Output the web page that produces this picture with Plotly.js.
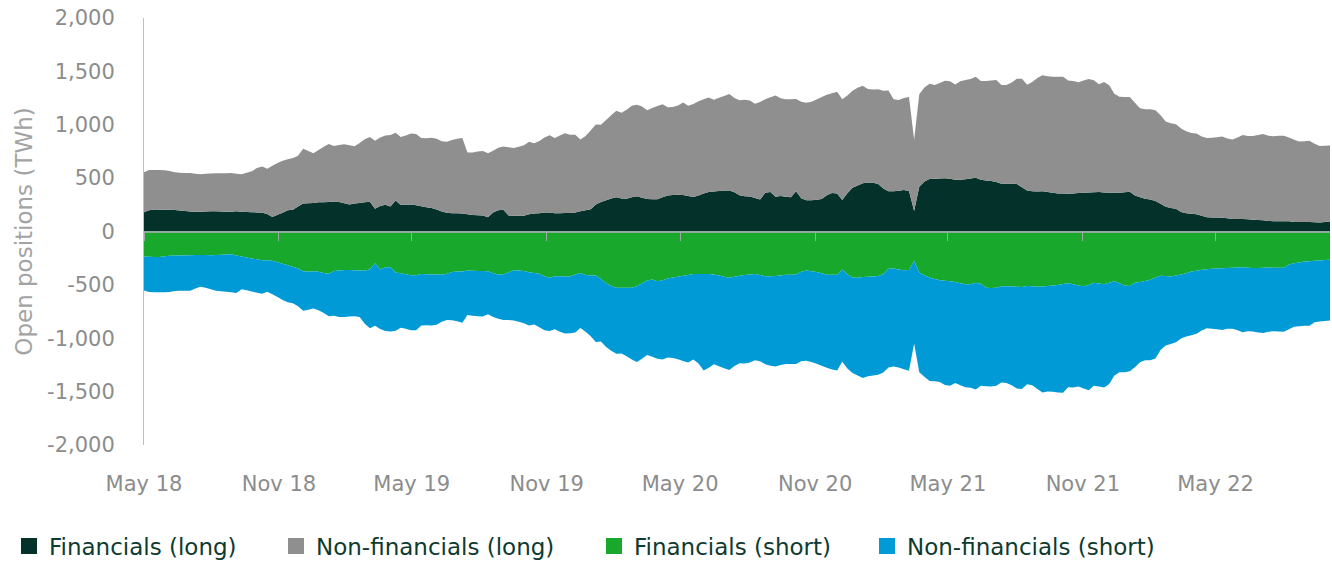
<!DOCTYPE html>
<html>
<head>
<meta charset="utf-8">
<script src="https://cdn.plot.ly/plotly-3.0.1.min.js"></script>
<style>
html,body{margin:0;padding:0;background:#fff;}
#chart{width:1332px;height:562px;}
</style>
</head>
<body>
<div id="chart"></div>
<script>
// Weekly observations starting at the first week of May 2018
const firstWeek = '2018-05-01';

const financialsLong = [181,200,205,203,203,203,202,197,191,188,186,184,187,189,189,187,185,184,189,186,
183,181,179,175,165,136,156,175,198,203,235,262,264,266,275,275,276,280,276,265,
254,263,268,273,278,214,240,250,235,290,248,250,253,245,236,226,220,206,187,175,
172,172,169,161,155,153,150,133,177,198,203,150,147,147,147,162,168,170,177,177,
170,172,173,174,178,190,200,209,252,277,293,309,320,308,306,320,330,317,304,303,
303,320,337,341,345,343,333,323,337,355,370,375,380,384,385,368,339,330,328,314,
299,362,370,325,333,325,322,378,312,293,293,297,305,340,360,355,295,358,410,431,
452,458,456,446,402,376,378,381,388,380,191,420,468,491,494,497,500,493,485,485,
490,496,503,485,478,472,464,447,447,447,445,415,384,378,375,378,370,362,357,355,
353,357,360,362,365,367,369,365,362,362,362,368,372,337,320,306,300,285,260,232,
220,212,182,172,167,162,148,134,132,130,129,124,116,116,116,114,110,108,105,99,
97,97,97,96,89,89,90,90,86,85,90,94];

const nonFinancialsLong = [375,375,371,372,370,363,354,353,358,360,356,353,354,355,356,359,361,363,352,350,
368,384,415,435,423,479,486,487,479,485,475,513,491,468,488,518,544,520,534,553,
554,535,562,592,607,636,640,650,670,634,637,650,664,669,639,647,659,664,658,666,
684,696,708,579,585,597,603,599,580,586,593,640,635,648,662,678,658,677,703,725,
705,728,747,732,728,672,695,736,751,723,752,781,811,804,834,858,858,853,831,854,
873,871,826,825,835,865,845,872,882,885,885,860,872,886,903,882,891,904,898,882,
914,878,888,950,915,913,917,863,903,913,923,940,954,940,935,953,943,917,908,916,
914,878,874,886,916,944,862,852,862,881,668,865,882,893,878,893,913,915,891,922,
930,933,947,925,932,942,955,926,925,948,985,1017,990,1022,1062,1085,1085,1088,1093,1095,
1062,1053,1039,1053,1063,1051,1011,1035,1008,928,900,892,887,868,835,839,846,850,830,798,
795,792,783,768,755,756,742,742,746,752,761,748,746,764,789,781,784,797,808,797,
796,800,801,784,771,753,756,760,736,715,713,712];

const financialsShort = [-234,-237,-240,-238,-233,-228,-225,-225,-225,-223,-221,-219,-221,-222,-220,-218,-215,-214,-224,-234,
-243,-253,-261,-270,-270,-275,-288,-301,-315,-330,-346,-372,-378,-373,-378,-388,-396,-369,-365,-361,
-360,-363,-365,-367,-354,-297,-355,-335,-335,-385,-392,-400,-411,-410,-399,-400,-402,-402,-405,-395,
-379,-375,-375,-366,-368,-370,-371,-372,-392,-402,-400,-383,-363,-366,-369,-381,-389,-395,-420,-434,
-420,-420,-421,-422,-403,-388,-408,-413,-413,-445,-485,-510,-528,-527,-526,-527,-513,-485,-460,-450,
-466,-456,-441,-431,-423,-415,-407,-398,-397,-397,-397,-403,-413,-424,-434,-424,-414,-408,-402,-398,
-408,-419,-419,-418,-412,-406,-405,-403,-378,-366,-372,-379,-391,-404,-406,-406,-355,-400,-432,-433,
-427,-424,-421,-418,-400,-350,-347,-355,-362,-360,-275,-385,-410,-432,-445,-456,-461,-465,-473,-485,
-495,-493,-480,-490,-527,-530,-527,-512,-512,-515,-517,-520,-510,-512,-518,-515,-511,-507,-500,-492,
-484,-494,-505,-514,-500,-479,-488,-495,-481,-466,-485,-505,-510,-481,-472,-464,-453,-430,-414,-418,
-421,-412,-403,-390,-375,-367,-359,-354,-350,-346,-345,-342,-339,-337,-334,-340,-343,-341,-339,-338,
-339,-340,-340,-310,-297,-291,-282,-279,-275,-272,-268,-264];

const nonFinancialsShort = [-319,-329,-329,-331,-336,-338,-332,-329,-330,-333,-314,-298,-305,-318,-334,-341,-349,-355,-351,-306,
-307,-309,-312,-314,-294,-313,-325,-340,-347,-342,-354,-370,-356,-349,-360,-376,-398,-420,-435,-439,
-437,-430,-435,-498,-553,-585,-559,-596,-601,-545,-509,-511,-514,-516,-481,-478,-478,-472,-440,-435,
-452,-466,-480,-416,-421,-424,-426,-404,-408,-415,-429,-447,-471,-479,-490,-500,-482,-502,-505,-497,
-496,-520,-534,-530,-542,-517,-530,-568,-623,-586,-597,-608,-618,-615,-642,-671,-709,-707,-698,-723,
-725,-742,-740,-755,-774,-798,-821,-800,-840,-905,-879,-840,-849,-856,-863,-836,-821,-829,-825,-807,
-808,-824,-839,-847,-839,-835,-836,-838,-837,-845,-850,-859,-867,-873,-886,-896,-865,-883,-893,-917,
-945,-931,-929,-925,-920,-924,-917,-919,-928,-944,-775,-933,-950,-968,-957,-954,-977,-981,-947,-955,
-963,-970,-1000,-956,-923,-922,-917,-903,-907,-925,-953,-955,-920,-929,-957,-993,-987,-995,-1008,-1019,
-976,-968,-947,-957,-988,-966,-964,-966,-947,-884,-834,-814,-800,-791,-753,-743,-754,-759,-696,-649,
-632,-625,-599,-593,-596,-592,-568,-552,-560,-569,-578,-568,-571,-588,-609,-595,-593,-604,-611,-600,
-596,-596,-598,-605,-596,-597,-602,-603,-576,-570,-570,-570];

const seriesNames = ['Financials (long)', 'Non-financials (long)', 'Financials (short)', 'Non-financials (short)'];
const seriesColors = ['#04322a', '#8f8f8f', '#17a82c', '#009bd6'];

const xTickVals = ['2018-05-01','2018-11-01','2019-05-01','2019-11-01','2020-05-01','2020-11-01','2021-05-01','2021-11-01','2022-05-01'];
const xTickText = ['May 18','Nov 18','May 19','Nov 19','May 20','Nov 20','May 21','Nov 21','May 22'];
const yTickVals = [-2000,-1500,-1000,-500,0,500,1000,1500,2000];
const yTickText = ['-2,000','-1,500','-1,000','-500','0','500','1,000','1,500','2,000'];

// weekly date axis
const dates = [];
(function(){
  const d0 = new Date(firstWeek + 'T00:00:00Z');
  for (let i = 0; i < financialsLong.length; i++) {
    const d = new Date(d0.getTime() + i * 7 * 86400000);
    dates.push(d.toISOString().slice(0,10));
  }
})();

const values = [financialsLong, nonFinancialsLong, financialsShort, nonFinancialsShort];
const groups = ['long','long','short','short'];

const traces = [];
values.forEach((v, k) => {
  traces.push({
    type: 'scatter', x: dates, y: v, stackgroup: groups[k], mode: 'none',
    fillcolor: seriesColors[k], line: {width: 0}, name: seriesNames[k],
    showlegend: false, hoverinfo: 'skip'
  });
});
// legend entries (square symbols), one legend per entry
const legendIds = ['legend','legend2','legend3','legend4'];
seriesNames.forEach((n, k) => {
  traces.push({
    type: 'scatter', x: [null], y: [null], mode: 'markers', name: n,
    marker: {symbol: 'square', size: 16, color: seriesColors[k]},
    showlegend: true, legend: legendIds[k], hoverinfo: 'skip'
  });
});
// helper trace for the zero-line axis with tick marks
traces.push({type:'scatter', x:[dates[0]], y:[0], xaxis:'x2', mode:'none', showlegend:false, hoverinfo:'skip'});

const legendFont = {family: 'DejaVu Sans, sans-serif', size: 23, color: '#0e3a2f'};
function leg(xpx){
  return {orientation:'h', x:(xpx-144)/1186, xanchor:'left', y:-0.2365, yanchor:'middle',
          font: legendFont, bgcolor:'rgba(0,0,0,0)', borderwidth:0, itemwidth:30};
}

const layout = {
  width: 1332, height: 562,
  margin: {l: 144, r: 2, t: 18, b: 117, autoexpand: false},
  paper_bgcolor: '#ffffff', plot_bgcolor: '#ffffff',
  font: {family: 'DejaVu Sans, sans-serif', color: '#8c8c8c'},
  showlegend: true,
  xaxis: {
    type: 'date', range: [dates[0], dates[dates.length-1]],
    tickmode: 'array', tickvals: xTickVals, ticktext: xTickText,
    showgrid: false, showline: false, zeroline: false, ticks: '',
    ticklabelstandoff: 24,
    tickfont: {family: 'DejaVu Sans, sans-serif', size: 21, color: '#8c8c8c'}
  },
  xaxis2: {
    type: 'date', overlaying: 'x', matches: 'x', anchor: 'free', position: 0.5,
    tickmode: 'array', tickvals: xTickVals, showticklabels: false,
    ticks: 'outside', ticklen: 8, tickwidth: 1, tickcolor: '#a6a6a6',
    showline: true, linecolor: '#8faa98', linewidth: 2,
    showgrid: false, zeroline: false
  },
  yaxis: {
    range: [-2000, 2000], tickmode: 'array', tickvals: yTickVals, ticktext: yTickText,
    showgrid: false, zeroline: false, showline: true, linecolor: '#bfbfbf', linewidth: 1,
    ticks: '', ticklabelstandoff: 24,
    tickfont: {family: 'DejaVu Sans, sans-serif', size: 21, color: '#8c8c8c'},
    title: {text: 'Open positions (TWh)', standoff: 8,
            font: {family: 'DejaVu Sans, sans-serif', size: 23, color: '#a3a3a3'}}
  },
  legend: leg(9), legend2: leg(276), legend3: leg(594), legend4: leg(867)
};

Plotly.newPlot('chart', traces, layout, {displayModeBar: false, staticPlot: true});
</script>
</body>
</html>
